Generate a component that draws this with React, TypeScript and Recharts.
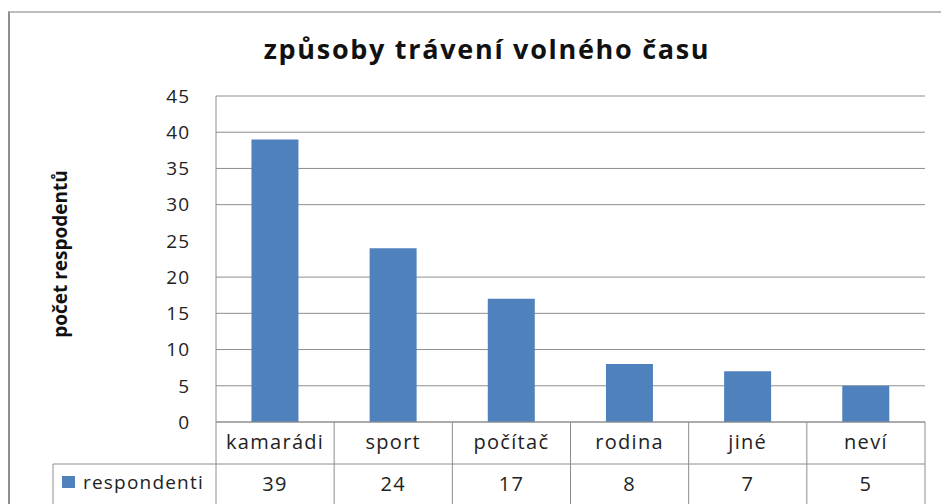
import { BarChart, Bar, XAxis, YAxis, CartesianGrid } from "recharts";

const categories = ["kamarádi", "sport", "počítač", "rodina", "jiné", "neví"];
const respondenti = [39, 24, 17, 8, 7, 5];
const yTicks = [0, 5, 10, 15, 20, 25, 30, 35, 40, 45];
// the 25 line is missing in the scanned original
const gridLines = [0, 5, 10, 15, 20, 30, 35, 40, 45];
const seriesName = "respondenti";

const data = categories.map((name, i) => ({ name, value: respondenti[i] }));

const FONT = "'Open Sans', sans-serif";
const LINE = "#8e8e8e";
const BLUE = "#4F81BD";
const yMax = yTicks[yTicks.length - 1];

// category row + data-table row drawn under the x axis
function TableTick(props: any) {
  const { x, y, payload, index, width, visibleTicksCount } = props;
  const band = width / visibleTicksCount;
  const left = x - band / 2;
  const right = x + band / 2;
  const rowY = y + 42;
  const bottom = y + 90;
  const value = respondenti[index];
  return (
    <g>
      <line x1={right} y1={y} x2={right} y2={bottom} stroke={LINE} />
      <line x1={left} y1={rowY} x2={right} y2={rowY} stroke={LINE} />
      {index === 0 && (
        <g>
          <line x1={left} y1={y} x2={left} y2={bottom} stroke={LINE} />
          <line x1={left - 163} y1={rowY} x2={left} y2={rowY} stroke={LINE} />
          <line x1={left - 163} y1={rowY} x2={left - 163} y2={bottom} stroke={LINE} />
          <rect x={left - 154} y={rowY + 12} width={13} height={12} fill={BLUE} />
          <text x={left - 133} y={y + 67} fontSize={19} fontFamily={FONT} fill="#222" letterSpacing={1.2}>
            {seriesName}
          </text>
        </g>
      )}
      <text x={x} y={y + 27} textAnchor="middle" fontSize={20} fontFamily={FONT} fill="#222" letterSpacing={1.3}>
        {payload.value}
      </text>
      <text x={x} y={y + 69} textAnchor="middle" fontSize={20} fontFamily={FONT} fill="#222" letterSpacing={1.3}>
        {value}
      </text>
    </g>
  );
}

function gridCoords({ yAxis, offset }: any) {
  const scale = yAxis && yAxis.scale;
  if (typeof scale === "function") return gridLines.map((v) => scale(v));
  if (scale && typeof scale.map === "function") return gridLines.map((v) => scale.map(v));
  return gridLines.map((v) => offset.top + offset.height * (1 - v / yMax));
}

export default function App() {
  return (
    <div
      style={{
        position: "fixed",
        left: 8,
        top: 11,
        width: 933,
        height: 493,
        borderLeft: "2px solid #8f8f8f",
        borderTop: "2px solid #bdbdbd",
        background: "#fff",
        overflow: "hidden",
      }}
    >
      <div
        style={{
          position: "absolute",
          left: 0,
          top: 22,
          width: 954,
          textAlign: "center",
          fontFamily: FONT,
          fontWeight: 700,
          fontSize: 27,
          lineHeight: 1,
          letterSpacing: 1.7,
          color: "#111",
          whiteSpace: "nowrap",
        }}
      >
        způsoby trávení volného času
      </div>
      <div
        style={{
          position: "absolute",
          left: 50,
          top: 241,
          transform: "translate(-50%, -50%) rotate(-90deg)",
          fontFamily: FONT,
          fontWeight: 700,
          fontSize: 19,
          lineHeight: 1,
          color: "#111",
          whiteSpace: "nowrap",
        }}
      >
        počet respodentů
      </div>
      <BarChart
        width={931}
        height={491}
        data={data}
        margin={{ top: 83, right: 16, left: 0, bottom: 0 }}
        barCategoryGap="30%"
      >
        <CartesianGrid vertical={false} stroke={LINE} horizontalCoordinatesGenerator={gridCoords} />
        <XAxis
          dataKey="name"
          height={82}
          axisLine={{ stroke: LINE }}
          tickLine={false}
          tickSize={0}
          tickMargin={0}
          interval={0}
          tick={<TableTick />}
        />
        <YAxis
          width={206}
          domain={[0, yMax]}
          ticks={yTicks}
          axisLine={{ stroke: LINE }}
          tickLine={false}
          tickSize={0}
          tickMargin={26}
          tick={{ fontSize: 19, fontFamily: FONT, fill: "#222", letterSpacing: 1 }}
        />
        <Bar dataKey="value" fill={BLUE} isAnimationActive={false} />
      </BarChart>
    </div>
  );
}
